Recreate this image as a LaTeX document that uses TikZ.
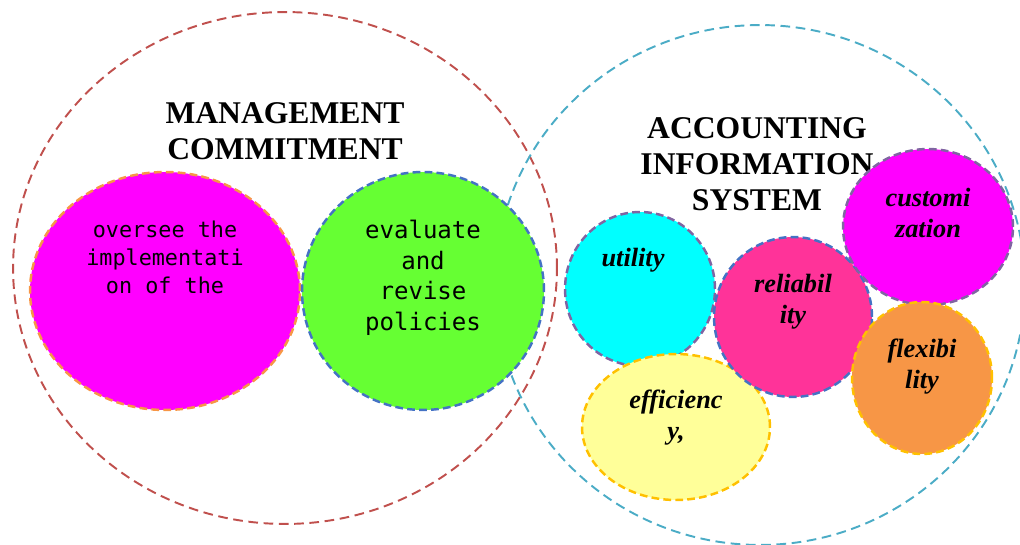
\documentclass[tikz,border=0pt]{standalone}
\usepackage{fontspec}
\setmainfont{Liberation Serif}
\setmonofont{DejaVu Sans Mono}
\usetikzlibrary{shapes.geometric}

\definecolor{mgmtline}{HTML}{C0504D}
\definecolor{aisline}{HTML}{4BACC6}
\definecolor{blueline}{HTML}{4472C4}
\definecolor{purpleline}{HTML}{8064A2}
\definecolor{goldline}{HTML}{FFC000}
\definecolor{orangeline}{HTML}{F79646}
\definecolor{brightmagenta}{HTML}{FF00FF}
\definecolor{brightcyan}{HTML}{00FFFF}
\definecolor{lime}{HTML}{66FF33}
\definecolor{paleyellow}{HTML}{FFFF99}
\definecolor{hotpink}{HTML}{FF3399}
\definecolor{softorange}{HTML}{F79646}

\tikzset{
  bigset/.style={ellipse, draw, line width=1.1pt, dash pattern=on 5.5pt off 3.2pt},
  blob/.style={ellipse, draw, line width=1.4pt, dash pattern=on 4.4pt off 2.4pt, inner sep=0pt},
  title/.style={font=\bfseries\fontsize{18}{20.5}\selectfont, align=center},
  monotext/.style={font=\ttfamily\fontsize{12.4}{15.9}\selectfont, align=center},
  quality/.style={font=\bfseries\itshape\fontsize{15}{17.6}\selectfont, align=center}
}

\begin{document}
\begin{tikzpicture}[x=0.02cm, y=-0.02cm]
            \useasboundingbox (0, 0) rectangle (1020, 544);

            % the two large sets
            \node[bigset, mgmtline, minimum width=10.88cm, minimum height=10.24cm] (mgmt) at (285, 268) {};
            \node[bigset, aisline, minimum width=10.6cm, minimum height=10.4cm] (ais) at (760, 285) {};

            \node[title] (mgmttitle) at (285, 131) {MANAGEMENT\\COMMITMENT};
            \node[title] (aistitle) at (757, 164) {ACCOUNTING\\INFORMATION\\SYSTEM};

            % management commitment
            \node[blob, fill=brightmagenta, draw=orangeline, minimum width=5.4cm, minimum height=4.76cm] (oversee) at (165, 291) {};
            \node[blob, fill=lime, draw=blueline, minimum width=4.84cm, minimum height=4.76cm] (evaluate) at (423, 291) {};

            \node[monotext] (overseetext) at (165, 257) {oversee the\\implementati\\on of the};
            \node[monotext, font=\ttfamily\fontsize{13.7}{17.4}\selectfont] (evaluatetext) at (423, 278) {evaluate\\and\\revise\\policies};

            % accounting information system
            \node[blob, fill=brightcyan, draw=purpleline, minimum width=3cm, minimum height=3.08cm] (utility) at (640, 289) {};
            \node[blob, fill=paleyellow, draw=goldline, minimum width=3.76cm, minimum height=2.92cm] (efficiency) at (676, 427) {};
            \node[blob, fill=hotpink, draw=blueline, minimum width=3.16cm, minimum height=3.2cm] (reliability) at (793, 317) {};
            \node[blob, fill=brightmagenta, draw=purpleline, minimum width=3.4cm, minimum height=3.12cm] (custom) at (928, 227) {};
            \node[blob, fill=softorange, draw=goldline, minimum width=2.8cm, minimum height=3.04cm] (flexibility) at (922, 378) {};

            \node[quality] (utilitytext) at (633, 260) {utility};
            \node[quality] (efficiencytext) at (676, 418) {efficienc\\y,};
            \node[quality] (reliabilitytext) at (793, 302) {reliabil\\ity};
            \node[quality] (customtext) at (928, 213) {customi\\zation};
            \node[quality] (flexibilitytext) at (922, 367) {flexibi\\lity};
        \end{tikzpicture}
\end{document}
